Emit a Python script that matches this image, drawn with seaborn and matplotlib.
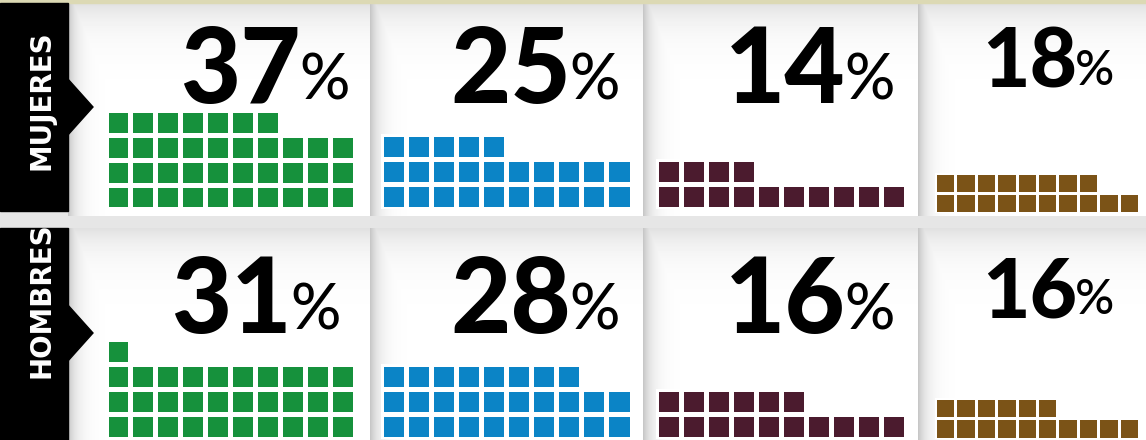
import numpy as np
import matplotlib
matplotlib.use("Agg")
import matplotlib.pyplot as plt
import seaborn as sns
from matplotlib.colors import ListedColormap
from matplotlib.patches import Rectangle, Polygon

# ---------------- data ----------------
groups = ["MUJERES", "HOMBRES"]
mujeres = [37, 25, 14, 18]
hombres = [31, 28, 16, 16]
colors = ["#16913c", "#0b84c6", "#4b1b2e", "#7b5317"]
per_row = 10

# ---------------- layout ----------------
sns.set_theme(style="white")
W, H = 1146, 440
fig = plt.figure(figsize=(W / 100, H / 100), dpi=100)
fig.patch.set_facecolor("#e6e6e6")

bg = fig.add_axes([0, 0, 1, 1])
bg.set_xlim(0, W)
bg.set_ylim(H, 0)
bg.axis("off")

col_x = [(68, 370), (370, 643), (643, 918), (918, 1146)]
row_y = [(3, 216), (228, 440)]

# panel backgrounds with soft shading on top / left edges
for (y0, y1) in row_y:
    for (x0, x1) in col_x:
        nx, ny = int(x1 - x0), int(y1 - y0)
        dx = np.arange(nx)[None, :]
        dy = np.arange(ny)[:, None]
        shade = np.maximum(0.22 * np.exp(-dx / 9.0), 0.12 * np.exp(-dy / 22.0))
        img = 1.0 - shade
        bg.imshow(img, cmap="gray", vmin=0, vmax=1, extent=(x0, x1, y1, y0),
                  aspect="auto", interpolation="bilinear", zorder=1)
bg.add_patch(Rectangle((0, 0), W, 3, color="#dcd9b4", zorder=2))
bg.set_xlim(0, W)
bg.set_ylim(H, 0)

# label tabs
label_cy = [100, 300]
arrow_cy = [107, 333]
for i, g in enumerate(groups):
    y0, y1 = row_y[i]
    bg.add_patch(Rectangle((0, y0), 68, (211 if i == 0 else 440) - y0,
                           color="black", zorder=3))
    a = arrow_cy[i]
    bg.add_patch(Polygon([(67, a - 29), (93, a), (67, a + 29)], closed=True,
                         color="black", zorder=3))
    bg.text(42, label_cy[i], g, rotation=90, ha="center", va="center",
            color="white", fontsize=20, fontweight="bold",
            family=["Liberation Sans Narrow", "DejaVu Sans"], zorder=4)

# waffle geometry per column
wx0 = [105.5, 381, 656, 935]
pitch_x = [24.95, 25.05, 25.0, 20.4]
pitch_y = [24.8, 25.0, 25.0, 20.5]
bottoms = [[209.5, 209.5, 209.5, 213.5], [438.5, 438.5, 438.5, 438.5]]
lw = [2.5, 2.5, 2.5, 2.0]

# number text geometry
num_x = [[301, 571, 846, 1077], [292, 571, 846, 1077]]
num_base = [[103, 103, 103, 88], [333, 333, 333, 317]]
num_size = [75, 75, 75, 59]
pct_size = [45, 45, 45, 35]

for r, vals in enumerate([mujeres, hombres]):
    for c, v in enumerate(vals):
        nrows = int(np.ceil(v / per_row))
        data = np.zeros((nrows, per_row))
        mask = np.ones((nrows, per_row), dtype=bool)
        for k in range(v):
            rr = nrows - 1 - k // per_row
            cc = k % per_row
            data[rr, cc] = 1
            mask[rr, cc] = False
        x0 = wx0[c]
        x1 = x0 + per_row * pitch_x[c]
        yb = bottoms[r][c]
        yt = yb - nrows * pitch_y[c]
        ax = fig.add_axes([x0 / W, 1 - yb / H, (x1 - x0) / W, (yb - yt) / H])
        sns.heatmap(data, mask=mask, cmap=ListedColormap([colors[c]]),
                    vmin=0, vmax=1, cbar=False, linewidths=lw[c],
                    linecolor="white", xticklabels=False, yticklabels=False,
                    ax=ax)
        ax.patch.set_alpha(0)
        ax.set_zorder(5)

        xd = num_x[r][c]
        bg.text(xd, num_base[r][c], str(v), ha="right", va="baseline",
                fontsize=num_size[c], fontweight="black", color="black",
                family=["Lato", "DejaVu Sans"], zorder=6)
        bg.text(xd - 2, num_base[r][c] - 3, "%", ha="left", va="baseline",
                fontsize=pct_size[c], fontweight="medium", color="black",
                family=["Lato", "DejaVu Sans"], zorder=6)

fig.savefig("out.png", dpi=100, facecolor=fig.get_facecolor())
